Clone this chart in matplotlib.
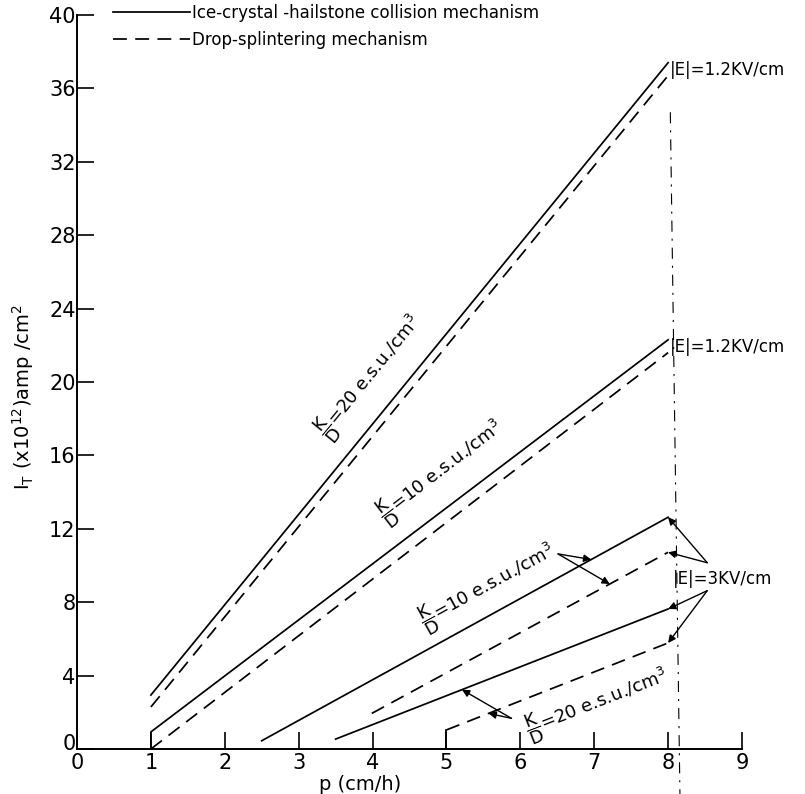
import math

import matplotlib
matplotlib.use("Agg")
import matplotlib.pyplot as plt
import matplotlib.transforms as mtransforms
import numpy as np

# K/D = 20 e.s.u./cm3, |E| = 1.2 KV/cm
p_k20_e12 = [1, 8]
ice_k20_e12 = [2.94, 37.4]
drop_k20_e12 = [2.29, 36.7]

# K/D = 10 e.s.u./cm3, |E| = 1.2 KV/cm
p_ice_k10_e12 = [1, 1, 8]
ice_k10_e12 = [0, 0.93, 22.3]
p_drop_k10_e12 = [1, 8]
drop_k10_e12 = [0, 21.6]

# K/D = 10 e.s.u./cm3, |E| = 3 KV/cm
p_ice_k10_e3 = [2.5, 8]
ice_k10_e3 = [0.45, 12.63]
p_drop_k10_e3 = [3.99, 8]
drop_k10_e3 = [1.94, 10.72]

# K/D = 20 e.s.u./cm3, |E| = 3 KV/cm
p_ice_k20_e3 = [3.5, 8]
ice_k20_e3 = [0.54, 7.63]
p_drop_k20_e3 = [5, 8]
drop_k20_e3 = [1.04, 5.78]

# dash-dot guide near p = 8
guide_p = [8.03, 8.16]
guide_y = [34.7, -2.45]

x_ticks = list(range(0, 10))
y_ticks = list(range(0, 41, 4))

plt.rcParams["lines.scale_dashes"] = False
DASH = (0, (10, 6))
LW = 1.25


def _angle(ax, xs, ys):
    (x1, y1), (x2, y2) = ax.transData.transform([(xs[0], ys[0]), (xs[-1], ys[-1])])
    return math.degrees(math.atan2(y2 - y1, x2 - x1))


def _arrow(ax, tail, head):
    ax.annotate(
        "", xy=head, xytext=tail,
        arrowprops=dict(arrowstyle="-|>", lw=1.0, color="black",
                        mutation_scale=11, shrinkA=0, shrinkB=0),
        annotation_clip=False,
    )


fig = plt.figure(figsize=(8.05, 7.94), dpi=100)
ax = fig.add_axes([77 / 805, 45 / 794, 665 / 805, 734 / 794])
ax.set_xlim(0, 9)
ax.set_ylim(0, 40)

for side in ("top", "right"):
    ax.spines[side].set_visible(False)
for side in ("left", "bottom"):
    ax.spines[side].set_linewidth(1.4)

ax.set_xticks(x_ticks)
ax.set_yticks(y_ticks)
ax.tick_params(axis="both", direction="in", length=12, width=1.2, labelsize=15)
ax.tick_params(axis="x", pad=3)
ax.tick_params(axis="y", pad=1)
# lift the y "0" a little so it does not sit on the x "0"
zero = ax.yaxis.get_major_ticks()[0].label1
zero.set_transform(zero.get_transform()
                   + mtransforms.ScaledTranslation(0, 5 / 72, fig.dpi_scale_trans))

ax.set_xlabel("p (cm/h)", fontsize=14)
ax.xaxis.set_label_coords(0.4256, -0.035)
ax.set_ylabel(r"$\mathregular{I_T}$ (x10$^{12}$)amp /cm$^2$", fontsize=14)
ax.yaxis.set_label_coords(-0.062, 0.48)

kw = dict(color="black", lw=LW, clip_on=False)
ax.plot(p_k20_e12, ice_k20_e12, "-", label="Ice-crystal -hailstone collision mechanism", **kw)
ax.plot(p_k20_e12, drop_k20_e12, linestyle=DASH, label="Drop-splintering mechanism", **kw)
ax.plot(p_ice_k10_e12, ice_k10_e12, "-", **kw)
ax.plot(p_drop_k10_e12, drop_k10_e12, linestyle=DASH, **kw)
ax.plot(p_ice_k10_e3, ice_k10_e3, "-", **kw)
ax.plot(p_drop_k10_e3, drop_k10_e3, linestyle=DASH, **kw)
ax.plot(p_ice_k20_e3, ice_k20_e3, "-", **kw)
ax.plot([p_drop_k20_e3[0]] * 2, [0, drop_k20_e3[0]], "-", **kw)
ax.plot(p_drop_k20_e3, drop_k20_e3, linestyle=DASH, **kw)
ax.plot(guide_p, guide_y, color="black", lw=0.8, linestyle=(0, (8, 5, 1.5, 5)), clip_on=False)

leg = ax.legend(
    loc="upper left", bbox_to_anchor=(113 / 805, 1 - 4 / 794), bbox_transform=fig.transFigure,
    frameon=False, fontsize=12, handlelength=4.6, handletextpad=0.15,
    borderpad=0, borderaxespad=0, labelspacing=0.55,
)

frac = r"$\dfrac{\mathregular{K}}{\mathregular{D}}$"
ax.text(3.97, 20.25, frac + "=20 e.s.u./cm$^3$", fontsize=13, ha="center", va="center",
        rotation=_angle(ax, p_k20_e12, ice_k20_e12))
ax.text(4.93, 15.1, frac + "=10 e.s.u./cm$^3$", fontsize=13, ha="center", va="center",
        rotation=_angle(ax, p_drop_k10_e12, drop_k10_e12))
ax.text(5.56, 8.85, frac + "=10 e.s.u./cm$^3$", fontsize=13, ha="center", va="center",
        rotation=_angle(ax, p_ice_k10_e3, ice_k10_e3))
ax.text(7.04, 2.45, frac + "=20 e.s.u./cm$^3$", fontsize=13, ha="center", va="center",
        rotation=_angle(ax, p_drop_k20_e3, drop_k20_e3))

ax.text(8.02, 37.0, "|E|=1.2KV/cm", fontsize=12, ha="left", va="center", clip_on=False)
ax.text(8.02, 21.9, "|E|=1.2KV/cm", fontsize=12, ha="left", va="center", clip_on=False)
ax.text(8.07, 9.26, "|E|=3KV/cm", fontsize=12, ha="left", va="center", clip_on=False)

# |E| = 3 KV/cm pointers
_arrow(ax, (8.53, 10.15), (p_ice_k10_e3[-1], ice_k10_e3[-1]))
_arrow(ax, (8.53, 10.15), (p_drop_k10_e3[-1], drop_k10_e3[-1]))
_arrow(ax, (8.53, 8.63), (p_ice_k20_e3[-1], ice_k20_e3[-1]))
_arrow(ax, (8.53, 8.63), (p_drop_k20_e3[-1], drop_k20_e3[-1]))

# K/D = 10 pointers at |E| = 3
_arrow(ax, (6.51, 10.63), (6.96, np.interp(6.96, p_ice_k10_e3, ice_k10_e3)))
_arrow(ax, (6.51, 10.63), (7.21, np.interp(7.21, p_drop_k10_e3, drop_k10_e3)))
# K/D = 20 pointers at |E| = 3
_arrow(ax, (5.88, 1.67), (5.21, np.interp(5.21, p_ice_k20_e3, ice_k20_e3)))
_arrow(ax, (5.88, 1.67), (5.57, np.interp(5.57, p_drop_k20_e3, drop_k20_e3)))

fig.savefig("out.png", dpi=100, facecolor="white")
